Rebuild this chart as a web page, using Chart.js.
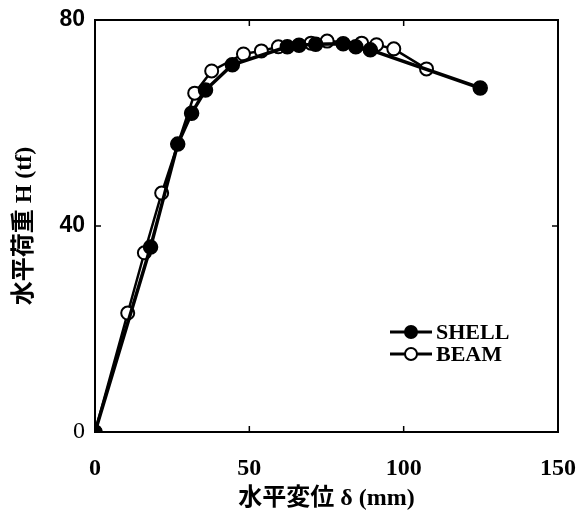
<!DOCTYPE html>
<html>
<head>
<meta charset="utf-8">
<script src="https://cdn.jsdelivr.net/npm/chart.js@4.4.0/dist/chart.umd.min.js"></script>
<style>
html,body{margin:0;padding:0;background:#fff;}
#wrap{width:587px;height:524px;}
</style>
</head>
<body>
<div id="wrap"><canvas id="c" width="587" height="524"></canvas></div>
<script>
const seriesNames = ["SHELL", "BEAM"];
const shellX = [0, 18.0, 26.8, 31.3, 35.8, 44.5, 62.3, 66.1, 71.5, 80.4, 84.5, 89.2, 124.8];
const shellY = [0, 35.9, 55.9, 61.9, 66.4, 71.3, 74.8, 75.1, 75.3, 75.4, 74.8, 74.2, 66.8];
const beamX = [0, 10.6, 16.0, 21.6, 32.3, 37.8, 48.1, 53.9, 59.4, 70.0, 75.2, 86.4, 91.2, 96.8, 107.4];
const beamY = [0, 23.1, 34.8, 46.4, 65.8, 70.1, 73.4, 74.0, 74.8, 75.5, 75.9, 75.5, 75.2, 74.4, 70.5];
const xTicks = [0, 50, 100, 150];
const yTicks = [0, 40, 80];
const xTitle = "水平変位 δ (mm)";
const yTitle = "水平荷重 H (tf)";

const FONT = "'Liberation Serif', 'Noto Sans CJK JP', serif";
const SANS = "'Liberation Sans', Arial, sans-serif";

function pts(xs, ys){ return xs.map((x,i)=>({x:x, y:ys[i]})); }

const framePlugin = {
  id: 'frame',
  afterDraw(chart){
    const ctx = chart.ctx, a = chart.chartArea;
    ctx.save();
    ctx.strokeStyle = '#000';
    ctx.lineWidth = 2;
    ctx.strokeRect(a.left, a.top, a.right - a.left, a.bottom - a.top);
    ctx.lineWidth = 1.5;
    const xs = chart.scales.x, ys = chart.scales.y;
    xTicks.forEach(v=>{
      const p = xs.getPixelForValue(v);
      ctx.beginPath(); ctx.moveTo(p, a.bottom); ctx.lineTo(p, a.bottom - 6); ctx.stroke();
      ctx.beginPath(); ctx.moveTo(p, a.top); ctx.lineTo(p, a.top + 6); ctx.stroke();
    });
    yTicks.forEach(v=>{
      const p = ys.getPixelForValue(v);
      ctx.beginPath(); ctx.moveTo(a.left, p); ctx.lineTo(a.left + 6, p); ctx.stroke();
      ctx.beginPath(); ctx.moveTo(a.right, p); ctx.lineTo(a.right - 6, p); ctx.stroke();
    });
    // legend
    const lx = 390, ly0 = 332, dy = 22;
    chart.data.datasets.forEach((ds, i)=>{
      const y = ly0 + i*dy;
      ctx.strokeStyle = '#000';
      ctx.lineWidth = 3;
      ctx.beginPath(); ctx.moveTo(lx, y); ctx.lineTo(lx + 42, y); ctx.stroke();
      ctx.beginPath(); ctx.arc(lx + 21, y, 6, 0, Math.PI*2);
      ctx.fillStyle = ds.pointBackgroundColor; ctx.fill();
      ctx.lineWidth = 2; ctx.stroke();
      ctx.fillStyle = '#000';
      ctx.font = "bold 22px " + FONT;
      ctx.textBaseline = 'middle';
      ctx.textAlign = 'left';
      ctx.fillText(ds.label, lx + 46, y + 1);
    });
    ctx.restore();
  }
};

new Chart(document.getElementById('c'), {
  type: 'scatter',
  data: {
    datasets: [
      {label: seriesNames[0], data: pts(shellX, shellY), showLine: true,
       borderColor: '#000', borderWidth: 3.5, pointRadius: 7, pointBackgroundColor: '#000',
       pointBorderColor: '#000', pointBorderWidth: 1.5},
      {label: seriesNames[1], data: pts(beamX, beamY), showLine: true,
       borderColor: '#000', borderWidth: 2.5, pointRadius: 6.5, pointBackgroundColor: '#fff',
       pointBorderColor: '#000', pointBorderWidth: 2}
    ]
  },
  options: {
    responsive: false,
    animation: false,
    layout: {padding: {left: 0, top: 20, right: 29, bottom: 0}},
    plugins: {legend: {display: false}, tooltip: {enabled: false}},
    scales: {
      x: {
        type: 'linear', min: 0, max: 150,
        afterBuildTicks(s){ s.ticks = xTicks.map(v=>({value:v})); },
        afterFit(s){ s.height = 92; s.paddingLeft = 0; s.paddingRight = 0; },
        grid: {display: false, drawTicks: false},
        border: {display: false},
        ticks: {color: '#000', padding: 22, font: {family: FONT, size: 24, weight: 'bold'}},
        title: {display: true, text: xTitle, color: '#000', padding: {top: 0, bottom: 11}, font: {family: FONT, size: 24, weight: 'bold'}}
      },
      y: {
        type: 'linear', min: 0, max: 80,
        afterBuildTicks(s){ s.ticks = yTicks.map(v=>({value:v})); },
        afterFit(s){ s.width = 95; s.paddingTop = 0; s.paddingBottom = 0; },
        grid: {display: false, drawTicks: false},
        border: {display: false},
        ticks: {color: '#000', padding: 10,
          font: (c) => (c.tick && c.tick.value === 0)
            ? {family: FONT, size: 24, weight: 'normal'}
            : {family: SANS, size: 23, weight: 'bold'}},
        title: {display: true, text: yTitle, color: '#000', padding: {top: 10, bottom: 0}, font: {family: FONT, size: 24, weight: 'bold'}}
      }
    }
  },
  plugins: [framePlugin]
});
</script>
</body>
</html>
